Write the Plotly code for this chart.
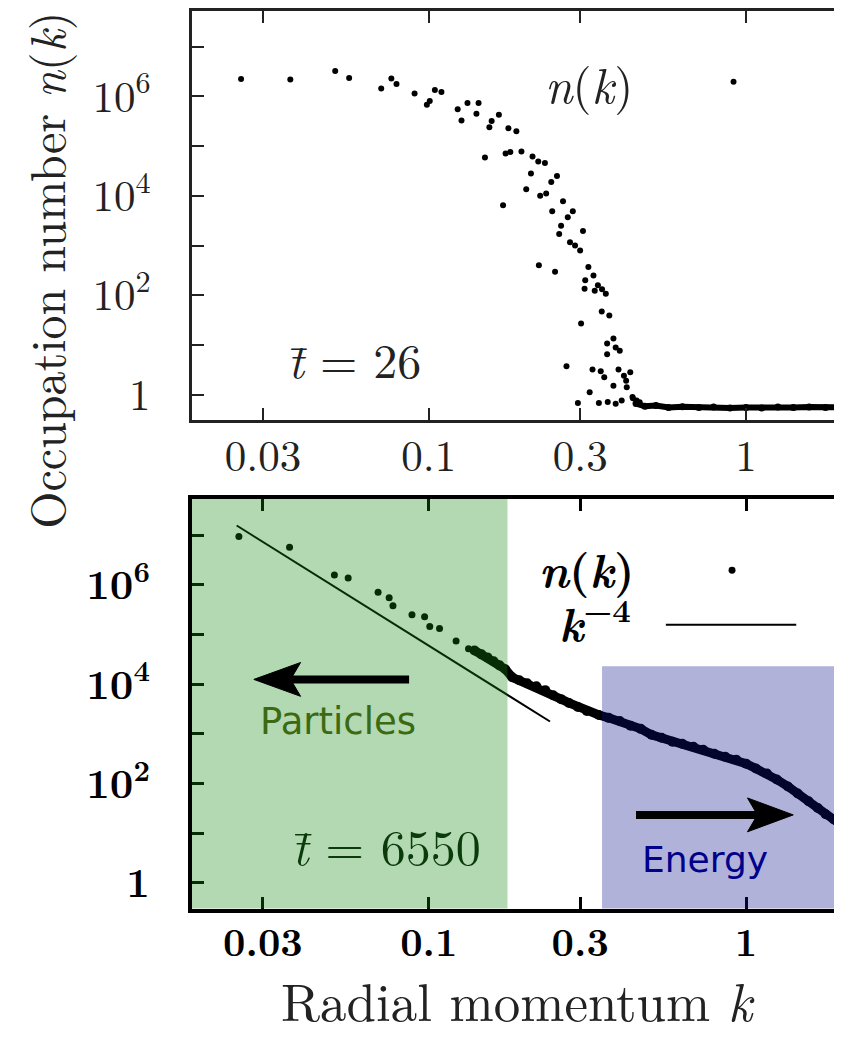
import plotly.graph_objects as go

# ---------------- data ----------------
# top panel (t = 26): scattered points
top_k = [0.0256, 0.0366, 0.0507, 0.0561, 0.0708, 0.0762, 0.0791, 0.0902, 0.0986, 0.1007,
         0.1045, 0.1096, 0.1233, 0.1268, 0.1324, 0.1435, 0.1413, 0.1552, 0.1578, 0.1663,
         0.1782, 0.1888, 0.1503, 0.1746, 0.1807, 0.1959, 0.2123, 0.2213, 0.2323, 0.2099,
         0.2028, 0.1714, 0.2244, 0.2344, 0.2432, 0.2535, 0.2449, 0.2649, 0.2742, 0.2844,
         0.2612, 0.2576, 0.2786, 0.2891, 0.2999, 0.3062, 0.2223, 0.2500, 0.3184, 0.3112,
         0.3304, 0.3097, 0.3334, 0.3412, 0.3516, 0.3614, 0.3508, 0.3707, 0.3020, 0.3819,
         0.3648, 0.3882, 0.3648, 0.3999, 0.3963, 0.4315, 0.2716, 0.3281, 0.3483, 0.3573,
         0.4121, 0.4188, 0.3819, 0.4207, 0.3214, 0.2951, 0.3436, 0.3664, 0.3882, 0.4055,
         0.4385, 0.4519, 0.4400, 0.4620]
top_n = [2.24e6, 2.19e6, 3.24e6, 2.34e6, 1.45e6, 2.29e6, 1.78e6, 1.15e6, 6.8e5, 8.1e5,
         1.35e6, 1.23e6, 5.5e5, 3.3e5, 7.4e5, 7.4e5, 4.5e5, 2.4e5, 3.2e5, 4.3e5,
         2.3e5, 2.0e5, 5.9e4, 7.1e4, 7.6e4, 7.8e4, 6.2e4, 4.9e4, 4.6e4, 2.8e4,
         1.35e4, 6.5e3, 1.0e4, 1.12e4, 1.9e4, 2.5e4, 4.9e3, 7.8e3, 3.7e3, 4.9e3,
         2.5e3, 1.7e3, 1.17e3, 1.0e3, 7.9e2, 1.95e3, 4.0e2, 2.95e2, 3.7e2, 2.0e2,
         2.5e2, 1.35e2, 1.23e2, 1.58e2, 1.32e2, 1.07e2, 47, 39, 27, 13.5,
         10.7, 8.9, 6.5, 7.6, 3.2, 2.8, 3.7, 3.2, 2.95, 2.24,
         2.4, 1.9, 1.5, 1.41, 1.12, 0.68, 0.68, 0.71, 0.65, 0.76,
         0.89, 0.76, 0.84, 0.70]
# top panel: dense flat band at high k
band_k = [0.45, 0.48, 0.52, 0.57, 0.63, 0.71, 0.79, 0.89, 1.0, 1.12, 1.26, 1.41, 1.58, 1.78, 1.95, 2.1]
band_n = [0.66, 0.58, 0.60, 0.55, 0.57, 0.55, 0.56, 0.54, 0.55, 0.54, 0.56, 0.55, 0.56, 0.55, 0.56, 0.55]

# bottom panel (t = 6550): sparse low-k points
bot_k = [0.0252, 0.0364, 0.0504, 0.0557, 0.0692, 0.0750, 0.0771, 0.0885, 0.0970, 0.1007,
         0.1081, 0.1219, 0.1334]
bot_n = [9.5e6, 5.75e6, 1.58e6, 1.38e6, 7.1e5, 5.5e5, 3.8e5, 2.5e5, 2.3e5, 1.45e5,
         1.32e5, 7.4e4, 5.2e4]
# bottom panel: dense curve
dense_k = [0.1393, 0.1466, 0.1531, 0.1600, 0.1671, 0.1742, 0.1832, 0.1928, 0.2042, 0.2183,
           0.2328, 0.2466, 0.2612, 0.2767, 0.2951, 0.3148, 0.3436, 0.3690, 0.3999, 0.4325,
           0.4656, 0.5035, 0.5420, 0.5861, 0.6295, 0.6823, 0.7328, 0.7943, 0.8590, 0.9311,
           1.0, 1.074, 1.164, 1.250, 1.355, 1.455, 1.574, 1.683, 1.782, 1.888, 2.0, 2.12]
dense_n = [4.8e4, 4.0e4, 3.47e4, 2.9e4, 2.4e4, 2.0e4, 1.38e4, 1.2e4, 1.05e4, 9.1e3,
           7.6e3, 6.0e3, 5.0e3, 4.2e3, 3.47e3, 2.9e3, 2.4e3, 2.1e3, 1.82e3, 1.45e3,
           1.26e3, 955, 832, 692, 631, 550, 479, 398, 347, 302,
           251, 200, 158, 120, 87, 63, 44, 32, 24, 19, 14.5, 11]
# k^-4 reference line (end points)
fit_k = [0.0248, 0.241]
fit_n = [1.58e7, 1.775e3]

# ticks
x_tickvals = [0.03, 0.1, 0.3, 1]
x_ticktext = ["0.03", "0.1", "0.3", "1"]
y_tickvals = [1, 10, 100, 1e3, 1e4, 1e5, 1e6, 1e7]
y_ticktext = ["1", "", "10<sup>2</sup>", "", "10<sup>4</sup>", "", "10<sup>6</sup>", ""]

# shaded regions (k / n limits)
particles_k = [0.0150, 0.177]
energy_k = [0.3516, 3.0]
energy_n_top = 2.29e4

W, H = 842, 1038
OFF = 8  # default page body margin
def px(x):
    return (x - OFF) / W
def py(y):
    return 1 - (y - OFF) / H

SERIF = "Latin Modern Roman"
SANS = "DejaVu Sans"
fig = go.Figure()

fig.add_trace(go.Scatter(x=top_k, y=top_n, mode="markers", xaxis="x", yaxis="y",
                         marker=dict(color="black", size=6), showlegend=False))
fig.add_trace(go.Scatter(x=band_k, y=band_n, mode="lines+markers", xaxis="x", yaxis="y",
                         line=dict(color="black", width=6), marker=dict(color="black", size=7),
                         showlegend=False))
fig.add_trace(go.Scatter(x=bot_k, y=bot_n, mode="markers", xaxis="x2", yaxis="y2",
                         marker=dict(color="black", size=7), showlegend=False))
fig.add_trace(go.Scatter(x=dense_k, y=dense_n, mode="lines+markers", xaxis="x2", yaxis="y2",
                         line=dict(color="black", width=9), marker=dict(color="black", size=10),
                         showlegend=False))
fig.add_trace(go.Scatter(x=fit_k, y=fit_n, mode="lines", xaxis="x2", yaxis="y2",
                         line=dict(color="black", width=2), showlegend=False))

xr = [-1.746, 0.315]
yr_top = [-0.52, 7.72]
yr_bot = [-0.52, 7.73]
top_dom = [py(419), 1.0]
bot_dom = [py(909), py(498)]
xdom = [px(193), 1.0]

common_x = dict(type="log", range=xr, domain=xdom, tickvals=x_tickvals, ticks="inside",
                ticklen=12, showline=True, mirror="allticks", showgrid=False, zeroline=False)
common_y = dict(type="log", tickvals=y_tickvals, ticks="inside", ticklen=12,
                showline=True, mirror="allticks", showgrid=False, zeroline=False,
                ticklabelstandoff=30)

fig.update_layout(
    width=W, height=H, margin=dict(l=0, r=0, t=0, b=0),
    paper_bgcolor="white", plot_bgcolor="white", showlegend=False,
    xaxis=dict(common_x, anchor="y", ticktext=x_ticktext, linewidth=3, linecolor="#222",
               tickcolor="#222", tickwidth=2, ticklabelstandoff=-4,
               tickfont=dict(family=SERIF, size=43, color="#222")),
    yaxis=dict(common_y, anchor="x", range=yr_top, domain=top_dom, ticktext=y_ticktext,
               linewidth=3, linecolor="#222", tickcolor="#222", tickwidth=2,
               tickfont=dict(family=SERIF, size=43, color="#222")),
    xaxis2=dict(common_x, anchor="y2", ticktext=["<b>%s</b>" % t for t in x_ticktext],
                linewidth=4, linecolor="black", tickcolor="black", tickwidth=3,
                ticklabelstandoff=-3,
                tickfont=dict(family=SERIF, size=39, color="black")),
    yaxis2=dict(common_y, anchor="x2", range=yr_bot, domain=bot_dom,
                ticktext=["<b>%s</b>" % t if t else "" for t in y_ticktext],
                linewidth=4, linecolor="black", tickcolor="black", tickwidth=3,
                tickfont=dict(family=SERIF, size=41, color="black")),
)

shapes = [
    dict(type="rect", xref="x2", yref="y2 domain", x0=particles_k[0], x1=particles_k[1],
         y0=0, y1=1, fillcolor="rgba(14,136,11,0.32)", line=dict(width=0), layer="above"),
    dict(type="rect", xref="x2", yref="y2", x0=energy_k[0], x1=energy_k[1],
         y0=0.2, y1=energy_n_top, fillcolor="rgba(8,14,139,0.32)",
         line=dict(width=0), layer="above"),
    # particles arrow
    dict(type="line", xref="paper", yref="paper", x0=px(411), x1=px(292), y0=py(679), y1=py(679),
         line=dict(color="black", width=8)),
    dict(type="path", xref="paper", yref="paper",
         path="M %f,%f L %f,%f L %f,%f L %f,%f Z" % (px(255), py(679), px(302), py(662),
                                                    px(292), py(679), px(302), py(696)),
         fillcolor="black", line=dict(color="black", width=1)),
    # energy arrow
    dict(type="line", xref="paper", yref="paper", x0=px(639), x1=px(762), y0=py(815), y1=py(815),
         line=dict(color="black", width=8)),
    dict(type="path", xref="paper", yref="paper",
         path="M %f,%f L %f,%f L %f,%f L %f,%f Z" % (px(797), py(815), px(751), py(798),
                                                    px(761), py(815), px(751), py(832)),
         fillcolor="black", line=dict(color="black", width=1)),
    # legend marks
    dict(type="circle", xref="paper", yref="paper", x0=px(734), x1=px(740), y0=py(76), y1=py(82),
         fillcolor="black", line=dict(width=0)),
    dict(type="circle", xref="paper", yref="paper", x0=px(732), x1=px(739), y0=py(566), y1=py(573),
         fillcolor="black", line=dict(width=0)),
    dict(type="line", xref="paper", yref="paper", x0=px(669), x1=px(800), y0=py(624), y1=py(624),
         line=dict(color="black", width=2)),
]
fig.update_layout(shapes=shapes)

def ann(text, x, y, size, color="black", family=SERIF, angle=0):
    return dict(text=text, x=px(x), y=py(y), xref="paper", yref="paper", showarrow=False,
                xanchor="center", yanchor="middle", textangle=angle,
                font=dict(family=family, size=size, color=color))

annotations = [
    ann("<i>n</i>(<i>k</i>)", 592, 80, 49, "#222"),
    ann("<i>t\u0304</i> = 26", 356, 356, 48, "#222"),
    ann("<b><i>n</i>(<i>k</i>)</b>", 590, 567, 46),
    ann("<b><i>k</i><sup>−4</sup></b>", 598, 620, 46),
    ann("<i>t\u0304</i> = 6550", 388, 845, 50, "#0b3a0b"),
    ann("Particles", 340, 721, 37, "#3b6a12", SANS),
    ann("Energy", 708, 860, 36, "#00008b", SANS),
    ann("Occupation number <i>n</i>(<i>k</i>)", 45, 268, 48, "#222", SERIF, -90),
    ann("Radial momentum <i>k</i>", 520, 999, 53, "#222"),
]
fig.update_layout(annotations=annotations)

fig.write_html("out.html")
